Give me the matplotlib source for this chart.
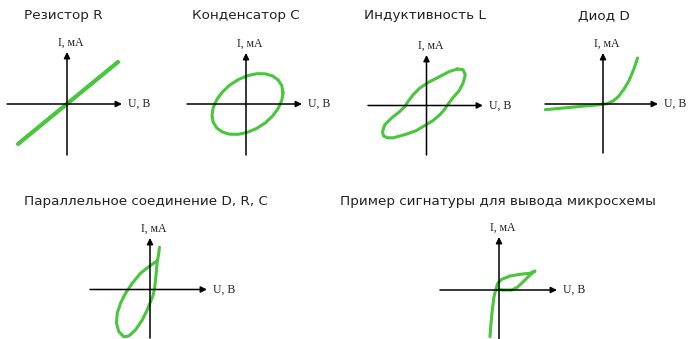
import matplotlib
matplotlib.use("Agg")
import matplotlib.pyplot as plt

W, H = 694, 339

titles = ["Резистор R", "Конденсатор С", "Индуктивность L", "Диод D",
          "Параллельное соединение D, R, C",
          "Пример сигнатуры для вывода микросхемы"]
i_label = "I, мА"
u_label = "U, В"

# curves, local units (x = U, y = I)
res_u = [-49, 51]
res_i = [-40, 42]

cap_u = [37, 35.8, 32.2, 26.6, 19.3, 10.7, 1.5, -7.7, -16.3, -23.6, -29.2, -32.8, -34,
         -32.8, -29.2, -23.6, -16.3, -7.7, 1.5, 10.7, 19.3, 26.6, 32.2, 35.8, 37]
cap_i = [11.3, 18.3, 24, 28, 30.2, 30.3, 28.3, 24.4, 18.9, 12, 4.4, -3.6, -11.3,
         -18.3, -24, -28, -30.2, -30.3, -28.3, -24.4, -18.9, -12, -4.4, 3.6, 11.3]

ind_u = [31, 23.3, 13.3, 1.6, -6.7, -13.4, -18.4, -21.7, -26.7, -35, -41.7, -44, -43, -39,
         -33, -20, -10, -1.7, 6.6, 13.3, 18.3, 21.6, 26.6, 32.6, 36.6, 38.8, 36.5, 31]
ind_i = [36.5, 34.2, 29, 23, 17.4, 10.7, 4, -1, -6, -12.6, -19.3, -26, -30.5, -32.3,
         -32.3, -28.6, -25, -20, -15, -9.3, -3.6, 1.4, 8, 14.7, 22.4, 30.7, 35.8, 36.5]

dio_u = [-57.7, -39.4, -22.7, -6, 4, 10.6, 15.6, 20.6, 25.6, 30.6, 34.6]
dio_i = [-5.7, -4, -2.4, -1, 0.3, 3.3, 7.6, 14.3, 22.6, 34.3, 46]

par_u = [9.5, 8.2, 7.2, 6.2, 4.8, 3.2, 0.5, -2.8, -7.8, -14.5, -21.2, -26.2, -31.2, -33.5,
         -32.8, -29.5, -24.5, -17.8, -9.5, -1.2, 7.2]
par_i = [42.2, 32.8, 27.8, 16.2, 2.8, -5.5, -12.2, -20.5, -30.5, -40.5, -46.5, -47.2, -42.2,
         -33.8, -23.8, -13.8, -3.8, 6.2, 16.2, 22.8, 28.8]

sig_u = [-9, -8, -6.7, -5, -3.3, -1.3, 2.7, 11, 21, 31, 36, 31, 24.3, 18.3, 12.7, 4.3, -2.3]
sig_i = [-46.7, -33.3, -20, -6.7, 0, 6.7, 10.7, 14, 15.7, 16.7, 19, 15, 8.3, 2.7, 0, 0, 0.7]

fig = plt.figure(figsize=(W / 100, H / 100), dpi=100)

GREEN = "#48c63c"
X0, X1, Y0, Y1 = 70, 100, 60, 70
curve = dict(color=GREEN, lw=2.2, solid_capstyle="round", solid_joinstyle="round")


def panel(ox, oy, hx, vy):
    ax = fig.add_axes([(ox - X0) / W, (H - oy - Y0) / H, (X0 + X1) / W, (Y0 + Y1) / H])
    ax.set_xlim(-X0, X1)
    ax.set_ylim(-Y0, Y1)
    ax.axis("off")
    arrow = dict(arrowstyle="-|>", color="black", lw=1.1, mutation_scale=9,
                 shrinkA=0, shrinkB=0)
    ax.annotate("", xy=(hx[1], 0), xytext=(hx[0], 0), arrowprops=arrow)
    ax.annotate("", xy=(0, vy[1]), xytext=(0, vy[0]), arrowprops=arrow)
    ax.text(-9, vy[1] + 9, i_label, family="Liberation Serif", fontsize=8.5,
            ha="left", va="center", color="#222222")
    ax.text(hx[1] + 6, 0, u_label, family="Liberation Serif", fontsize=8.5,
            ha="left", va="center", color="#222222")
    return ax


def title(x, y, s):
    fig.text(x / W, 1 - y / H, s, fontsize=9.7, ha="left", va="center",
             family="DejaVu Sans", color="#222222")


ax = panel(67, 104, (-60, 55), (-51, 52))
ax.plot(res_u, res_i, **{**curve, "lw": 3})
title(24, 16, titles[0])

ax = panel(246, 104, (-59, 56), (-51, 51))
ax.plot(cap_u, cap_i, **curve)
title(192, 16, titles[1])

ax = panel(426.5, 105.5, (-58.5, 56.5), (-49.5, 50.5))
ax.plot(ind_u, ind_i, **curve)
title(364, 16, titles[2])

ax = panel(603, 104, (-58, 55), (-49, 51))
ax.plot(dio_u, dio_i, **curve)
title(578, 16, titles[3])

ax = panel(150, 289.5, (-60, 57), (-48.5, 51.5))
ax.plot(par_u, par_i, **curve)
title(24, 202, titles[4])

ax = panel(499, 290, (-59, 58), (-49, 53))
ax.plot(sig_u, sig_i, **curve)
title(340, 202, titles[5])

fig.savefig("out.png", dpi=100)
